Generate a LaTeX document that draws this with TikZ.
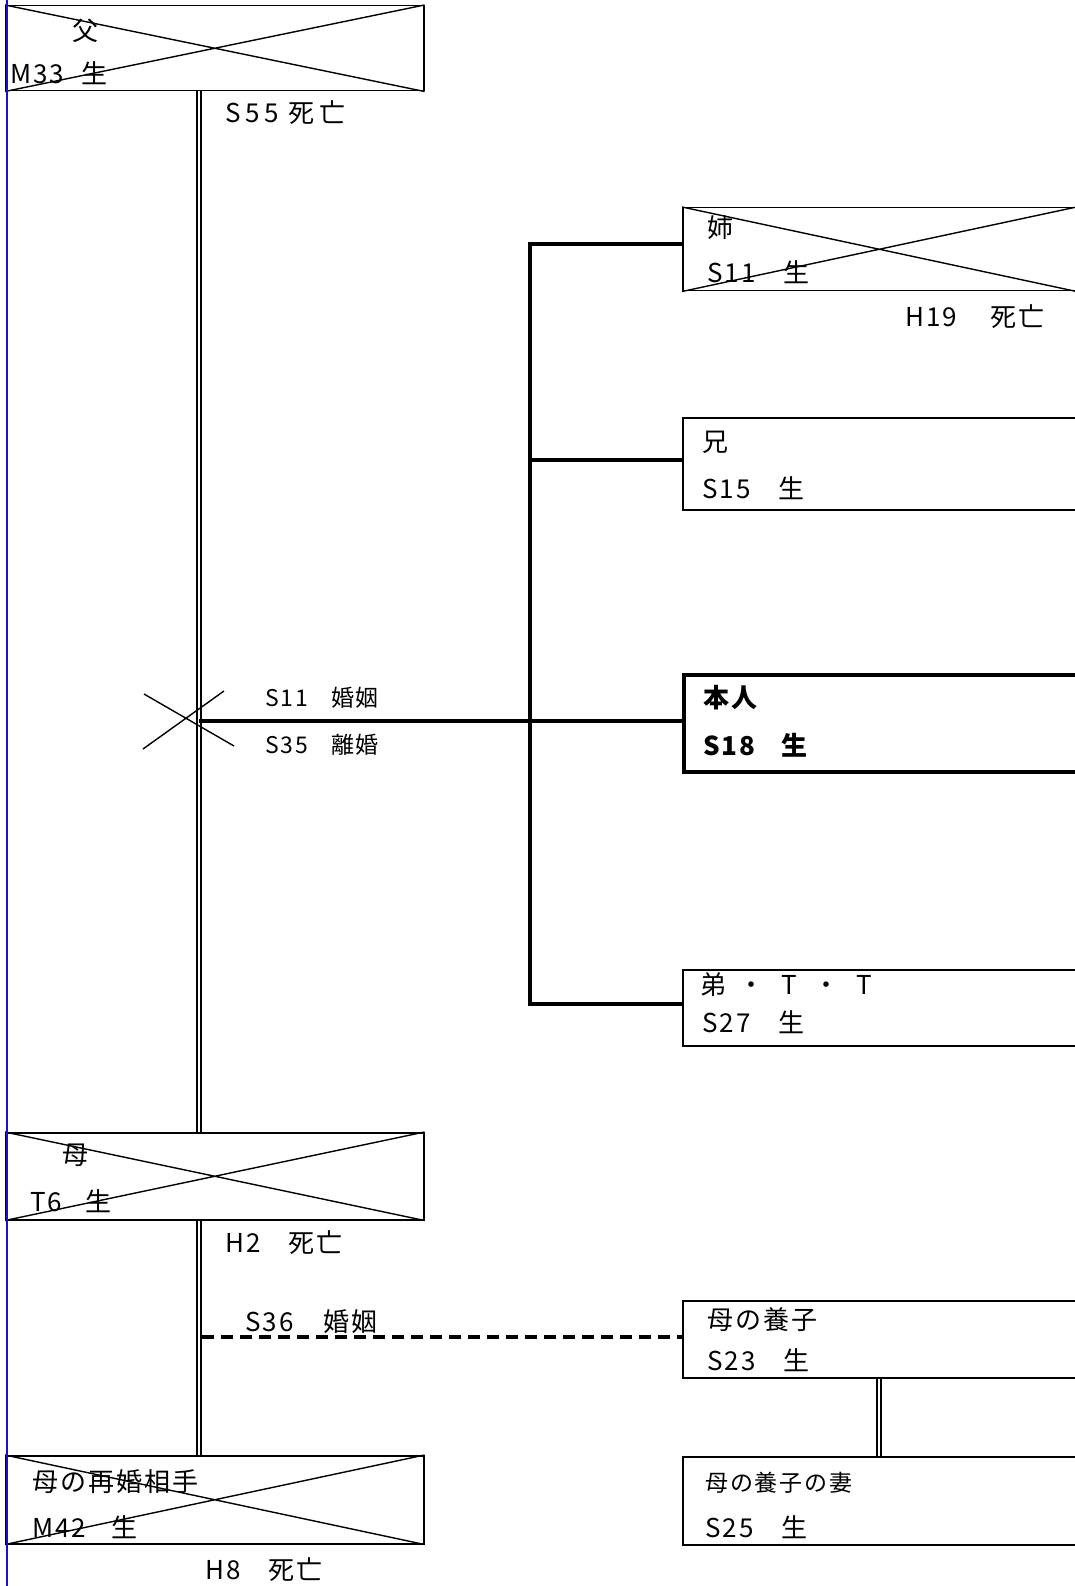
\documentclass[tikz,border=0pt]{standalone}
\usepackage{fontspec}
\setmainfont{Noto Sans CJK JP}[LetterSpace=8]
\usepackage{tikz}
\usetikzlibrary{positioning}
\definecolor{margin}{RGB}{20,20,205}
\tikzstyle{pbox} = [draw, line width=1.5pt, anchor=north west, inner sep=0pt]
\tikzstyle{txt} = [anchor=west, inner sep=0pt, font=\fontsize{26}{30}\selectfont]
\tikzstyle{stxt} = [anchor=west, inner sep=0pt, font=\fontsize{23}{27}\selectfont]
\tikzstyle{dline} = [draw, double, double distance=2.4pt, line width=1.4pt]
\tikzstyle{kin} = [draw, line width=4pt]
\tikzstyle{xline} = [draw, line width=1.4pt]
\newcommand{\cell}[1]{\makebox[37.5pt][c]{#1}}
\newcommand{\gap}[1]{\hspace{#1pt}}

\begin{document}
\begin{tikzpicture}[x=1pt, y=-1pt]
				\useasboundingbox (0,0) rectangle (1074,1586);
				\coordinate (fl) at (199,0);
				\coordinate (sib) at (530,0);
				\coordinate (al) at (879,0);

				% left side
				\node [pbox, minimum width=418pt, minimum height=85pt] (fa) at (5,5) {};
				\node [pbox, minimum width=418pt, minimum height=87pt] (mo) at (5,1132) {};
				\node [pbox, minimum width=418pt, minimum height=88pt] (re) at (5,1455) {};

				% right side
				\node [pbox, minimum width=393pt, minimum height=83pt] (sis) at (682,207) {};
				\node [pbox, minimum width=393pt, minimum height=92pt] (bro) at (682,417) {};
				\node [pbox, line width=4pt, minimum width=393pt, minimum height=97pt] (self) at (682,673) {};
				\node [pbox, minimum width=393pt, minimum height=76pt] (yb) at (682,969) {};
				\node [pbox, minimum width=393pt, minimum height=77pt] (ad) at (682,1300) {};
				\node [pbox, minimum width=393pt, minimum height=88pt] (adw) at (682,1456) {};

				% texts
				\node [txt] (fa_n) at (72,31) {父};
				\node [txt] (fa_b) at (10,73) {M33\gap{17}生};
				\node [txt] (fa_d) at (225,113) {\addfontfeature{LetterSpace=18}S55\gap{10}死亡};
				\node [txt] (sis_n) at (707,228) {姉};
				\node [txt] (sis_b) at (707,272) {S11\gap{28}生};
				\node [txt] (sis_d) at (905,317) {H19\gap{33}死亡};
				\node [txt] (bro_n) at (702,442) {兄};
				\node [txt] (bro_b) at (702,488) {S15\gap{28}生};
				\node [txt, font=\fontsize{26}{30}\selectfont\bfseries] (self_n) at (703,698) {本人};
				\node [txt, font=\fontsize{26}{30}\selectfont\bfseries] (self_b) at (703,745) {S18\gap{26}生};
				\node [txt] (yb_n) at (695,985) {\cell{弟}\cell{・}\cell{T}\cell{・}\cell{T}};
				\node [txt] (yb_b) at (702,1022) {S27\gap{28}生};
				\node [stxt] (mar) at (265,698) {S11\gap{23}婚姻};
				\node [stxt] (div) at (265,745) {S35\gap{23}離婚};
				\node [txt] (mo_n) at (62,1155) {母};
				\node [txt] (mo_b) at (30,1201) {T6\gap{23}生};
				\node [txt] (mo_d) at (225,1243) {H2\gap{28}死亡};
				\node [txt] (mar2) at (245,1322) {S36\gap{30}婚姻};
				\node [txt] (ad_n) at (707,1320) {母の養子};
				\node [txt] (ad_b) at (707,1360) {S23\gap{28}生};
				\node [stxt] (adw_n) at (705,1483) {母の養子の妻};
				\node [txt] (adw_b) at (705,1527) {S25\gap{28}生};
				\node [txt] (re_n) at (32,1482) {母の再婚相手};
				\node [txt] (re_b) at (32,1527) {M42\gap{25}生};
				\node [txt] (re_d) at (205,1570) {H8\gap{28}死亡};

				% deceased
				\foreach \p in {fa, mo, re, sis}
					\path [xline] (\p.north west) -- (\p.south east) (\p.south west) -- (\p.north east);

				% lines
				\path [dline] (fa.south -| fl) -- (mo.north -| fl);
				\path [dline] (mo.south -| fl) -- (re.north -| fl);
				\path [dline] (ad.south -| al) -- (adw.north -| al);
				\path [kin] ([yshift=3pt]self.west -| fl) -- ([yshift=3pt]self.west);
				\path [kin] ([yshift=5pt]sis.west) -- ([yshift=5pt]sis.west -| sib) -- ([yshift=4pt]yb.west -| sib) -- ([yshift=4pt]yb.west);
				\path [kin] ([yshift=4pt]bro.west) -- ([yshift=4pt]bro.west -| sib);
				\path [draw, line width=3.8pt, dash pattern=on 12pt off 7pt] ([xshift=3pt, yshift=2pt]ad.west -| fl) -- ([yshift=2pt]ad.west);
				\path [xline] (144,694) -- (234,746) (143,749) -- (224,691);

				\path [draw=margin, line width=2pt] (7,0) -- (7,1586);
			\end{tikzpicture}
\end{document}
